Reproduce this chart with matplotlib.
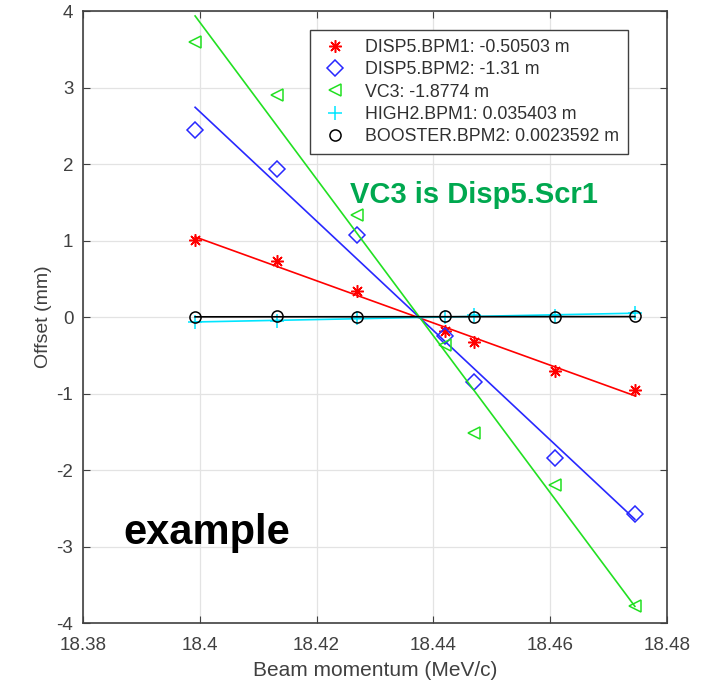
import numpy as np
import matplotlib
matplotlib.use("Agg")
import matplotlib.pyplot as plt

plt.rcParams['font.family'] = ['Liberation Sans', 'DejaVu Sans']
plt.rcParams['axes.unicode_minus'] = False

# beam momentum (MeV/c)
momentum = [18.3992, 18.4132, 18.4269, 18.442, 18.447, 18.4608, 18.4745]

# offsets (mm)
disp5_bpm1 = [1.01, 0.73, 0.34, -0.18, -0.33, -0.71, -0.95]
disp5_bpm2 = [2.45, 1.94, 1.07, -0.25, -0.85, -1.84, -2.58]
vc3 = [3.60, 2.90, 1.33, -0.37, -1.52, -2.20, -3.78]
high2_bpm1 = [-0.07, -0.05, -0.01, 0.00, 0.03, 0.01, 0.05]
booster_bpm2 = [0.0, 0.01, 0.0, 0.01, 0.0, 0.0, 0.01]

labels = ["DISP5.BPM1: -0.50503 m", "DISP5.BPM2: -1.31 m", "VC3: -1.8774 m",
          "HIGH2.BPM1: 0.035403 m", "BOOSTER.BPM2: 0.0023592 m"]
series = [disp5_bpm1, disp5_bpm2, vc3, high2_bpm1, booster_bpm2]
colors = ["#ff0000", "#2828ff", "#22e022", "#00e5ff", "#000000"]
markers = [(8, 2, 0), "D", "<", "+", "o"]
msizes = [9, 8, 9, 10, 8]

fig = plt.figure(figsize=(7.08, 6.83), dpi=100)
ax = fig.add_axes([0.1172, 0.0878, 0.8249, 0.896])

x = np.array(momentum)
for y, c, m, ms, lab in zip(series, colors, markers, msizes, labels):
    ax.plot(x, y, linestyle="none", marker=m, markersize=ms, color=c,
            markerfacecolor="none", markeredgewidth=1.1, label=lab)
    # linear fit
    p = np.polyfit(x, y, 1)
    ax.plot(x, np.polyval(p, x), color=c, linewidth=1.2)

ax.set_xlim(18.38, 18.48)
ax.set_ylim(-4, 4)
ax.set_xticks([18.38, 18.40, 18.42, 18.44, 18.46, 18.48])
ax.set_xticklabels(["18.38", "18.4", "18.42", "18.44", "18.46", "18.48"])
ax.set_yticks(range(-4, 5))
ax.tick_params(direction="in", labelsize=13.5, colors="#404040",
               top=True, right=True, length=5)
ax.tick_params(axis="x", pad=10)
ax.tick_params(axis="y", pad=7)
ax.grid(True, color="#e3e3e3", linewidth=0.9)
ax.set_axisbelow(True)
for s in ax.spines.values():
    s.set_color("#404040")
    s.set_linewidth(1.2)
ax.set_xlabel("Beam momentum (MeV/c)", fontsize=15, color="#404040", labelpad=5)
ax.set_ylabel("Offset (mm)", fontsize=14, color="#404040", labelpad=3)

leg = ax.legend(loc="upper right", bbox_to_anchor=(0.933, 0.969), borderaxespad=0,
                fontsize=12.8, fancybox=False, edgecolor="#404040", framealpha=1,
                handlelength=1.8, handletextpad=0.8, labelspacing=0.3, borderpad=0.5)
leg.get_frame().set_linewidth(1.0)
for t in leg.get_texts():
    t.set_color("#303030")

ax.text(18.4258, 1.49, "VC3 is Disp5.Scr1", color="#00a84f", fontsize=21,
        fontweight="bold", va="baseline")
ax.text(18.387, -2.97, "example", color="black", fontsize=30,
        fontweight="bold", va="baseline")

fig.savefig("out.png", dpi=100)
